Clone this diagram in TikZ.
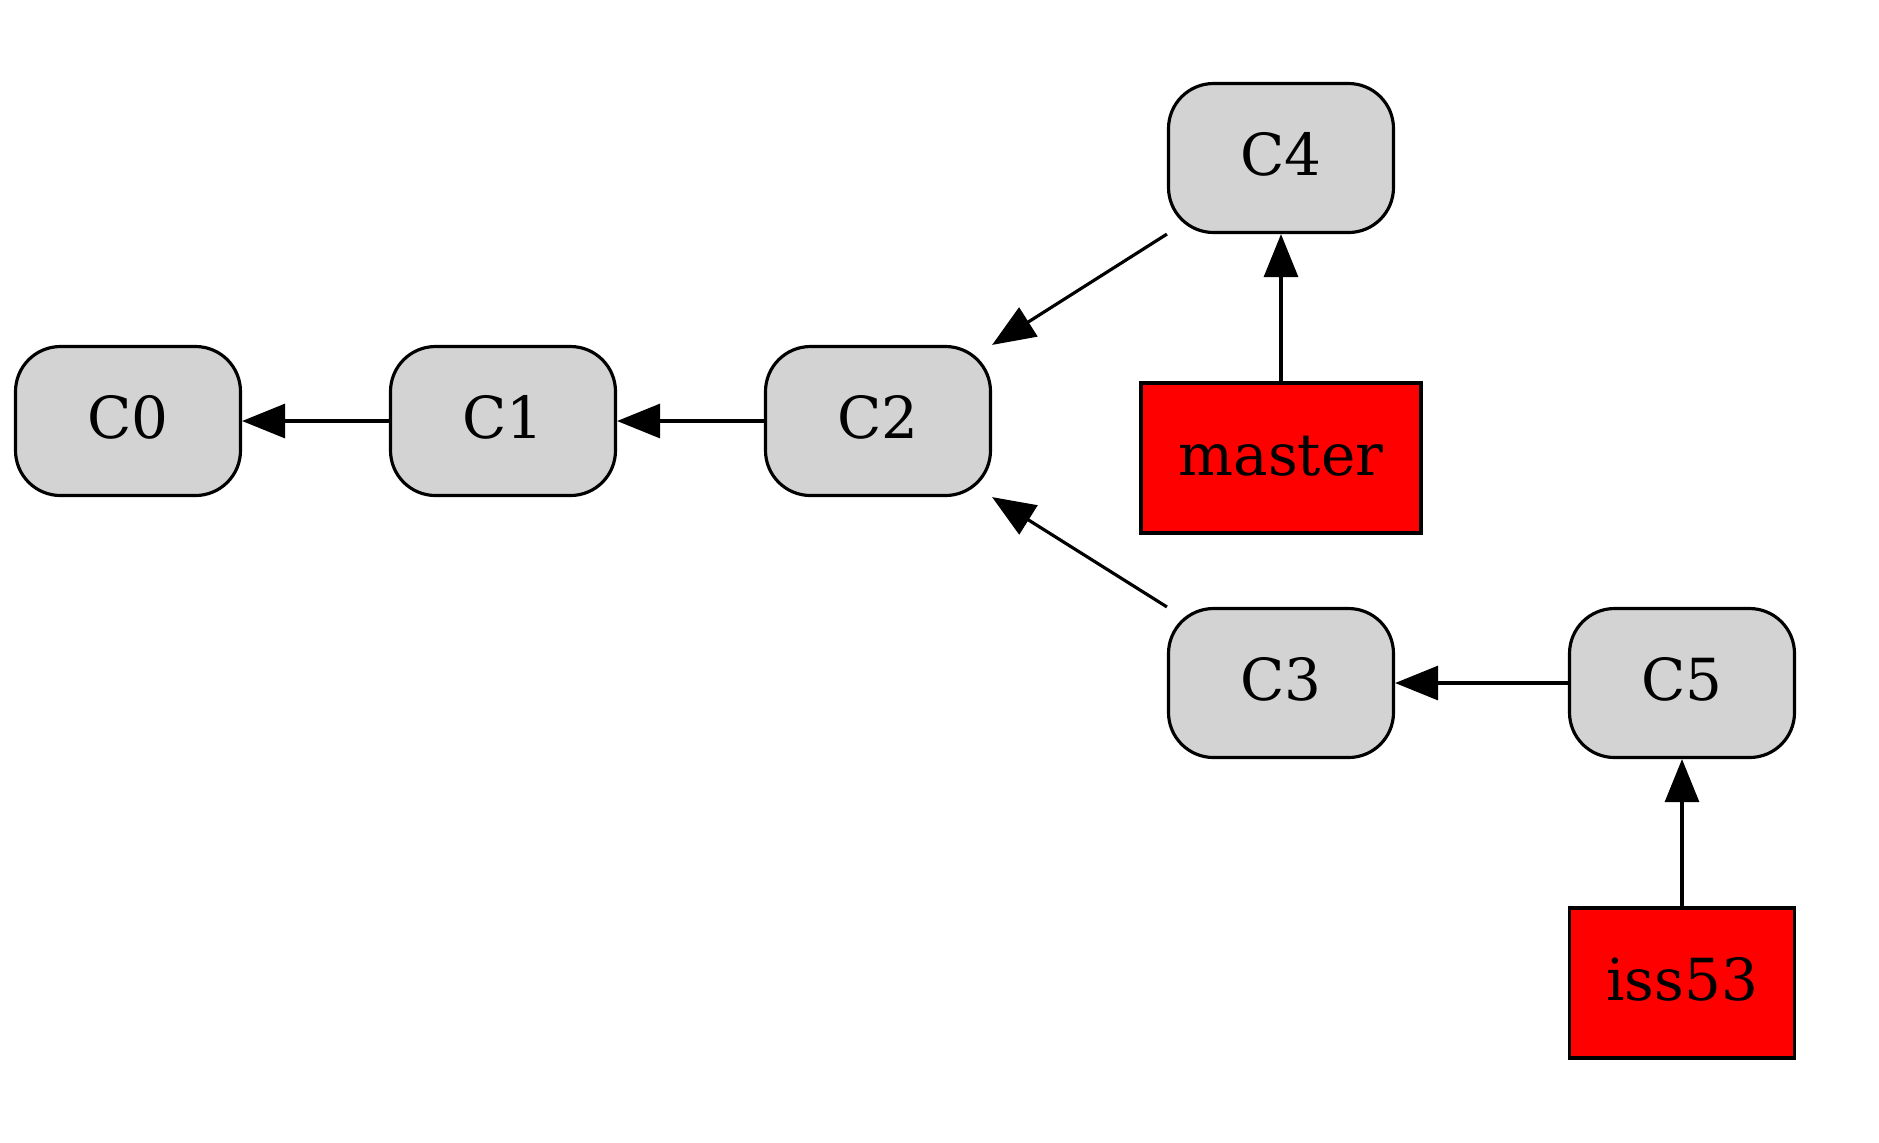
\documentclass[tikz,border=0pt]{standalone}
\usepackage{fontspec}
\setmainfont{DejaVu Serif}
\usetikzlibrary{arrows.meta}
\definecolor{commitgray}{HTML}{D3D3D3}

\begin{document}
\begin{tikzpicture}[
  commit/.style={draw, line width=0.9pt, fill=commitgray, rounded corners=0.45cm,
    minimum width=2.25cm, minimum height=1.49cm, inner sep=0pt,
    text height=0.44cm, text depth=0.10cm, font=\fontsize{16.5}{20}\selectfont},
  branch/.style={draw, line width=0.9pt, fill=red, minimum height=1.5cm, inner sep=0pt,
    text height=0.44cm, text depth=0.10cm, font=\fontsize{16.5}{20}\selectfont},
  parent/.style={-{Triangle[length=4.3mm,width=3.4mm]}, line width=0.9pt}
]
\useasboundingbox (0,0) rectangle (18.79,-11.42);

% commits
\node[commit] (c0) at (1.28,-4.21) {C0};
\node[commit] (c1) at (5.03,-4.21) {C1};
\node[commit] (c2) at (8.78,-4.21) {C2};
\node[commit] (c4) at (12.81,-1.58) {C4};
\node[commit] (c3) at (12.81,-6.83) {C3};
\node[commit] (c5) at (16.82,-6.83) {C5};

% branches
\node[branch, minimum width=2.80cm] (master) at (12.81,-4.58) {master};
\node[branch, minimum width=2.25cm] (iss53) at (16.82,-9.83) {iss53};

\draw[parent] (c1.west) -- (c0.east);
\draw[parent] (c2.west) -- (c1.east);
\draw[parent] (c4.south west) -- (c2.north east);
\draw[parent] (c3.north west) -- (c2.south east);
\draw[parent] (c5.west) -- (c3.east);
\draw[parent] (master.north) -- (c4.south);
\draw[parent] (iss53.north) -- (c5.south);
\end{tikzpicture}
\end{document}
